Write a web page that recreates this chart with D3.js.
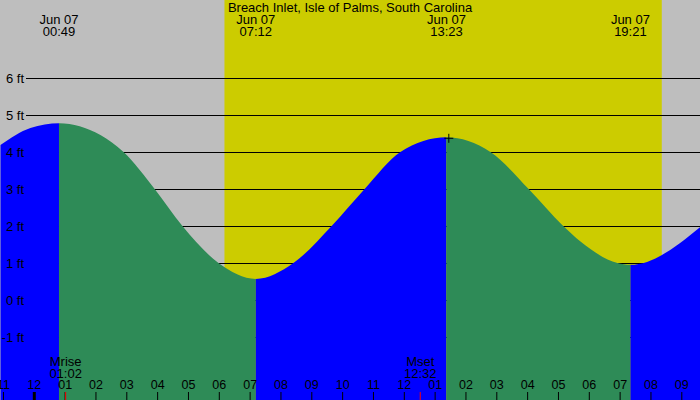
<!DOCTYPE html>
<html>
<head>
<meta charset="utf-8">
<script src="https://cdn.jsdelivr.net/npm/d3@7"></script>
<style>
  body { margin: 0; background: #fff; }
  svg { display: block; font-family: "Liberation Sans", Arial, sans-serif; }
</style>
</head>
<body>
<svg id="chart" width="700" height="400"></svg>
<script>
const title = 'Breach Inlet, Isle of Palms, South Carolina';

// tide extremes, Jun 07
const eventDates = ['Jun 07', 'Jun 07', 'Jun 07', 'Jun 07'];
const eventTimes = ['00:49', '07:12', '13:23', '19:21'];
const eventTypes = ['H', 'L', 'H', 'L'];

// tide height (ft), hours from midnight Jun 07
const curveHours = [-1.08, -0.11, 0.82, 2.16, 2.91, 3.92, 4.82, 5.99, 7.2, 8.42, 9.66, 10.73, 11.89,
  13.38, 14.81, 16.05, 17.17, 17.73, 18.93, 19.35, 21.63];
const curveFeet = [4.19, 4.65, 4.78, 4.46, 4.0, 3.0, 2.0, 1.0, 0.57, 1.0, 2.0, 3.0, 4.0,
  4.4, 4.0, 3.0, 2.0, 1.58, 1.0, 0.95, 1.98];

const sunTimes = ['06:11', '20:22'];
const moonLabels = ['Mrise', 'Mset'];
const moonTimes = ['01:02', '12:32'];
const markHour = [13.46];
const markFeet = [4.37];

const feetTicks = [6, 5, 4, 3, 2, 1, 0, -1];
const hourTicks = d3.range(-1, 22);

const W = 700, H = 400;
const toHours = (s) => { const [h, m] = s.split(':').map(Number); return h + m / 60; };

const x = d3.scaleLinear().domain([0, 12]).range([33.8, 403.8]);
const y = d3.scaleLinear().domain([0, 1]).range([300, 263]);

const svg = d3.select('#chart');

svg.append('rect').attr('width', W).attr('height', H).attr('fill', '#bebebe');

svg.append('rect')
  .attr('x', x(toHours(sunTimes[0])))
  .attr('width', x(toHours(sunTimes[1])) - x(toHours(sunTimes[0])))
  .attr('y', 0).attr('height', H)
  .attr('fill', '#cccc00');

// grid lines sit behind the water
svg.append('g').selectAll('line').data(feetTicks).enter().append('line')
  .attr('x1', 26).attr('x2', W)
  .attr('y1', (d) => Math.round(y(d)) + 0.5)
  .attr('y2', (d) => Math.round(y(d)) + 0.5)
  .attr('stroke', '#000');

const tide = curveHours.map((h, i) => ({ h, ft: curveFeet[i] }));
const area = d3.area()
  .x((d) => x(d.h))
  .y0(H)
  .y1((d) => y(d.ft))
  .curve(d3.curveMonotoneX);

svg.append('clipPath').attr('id', 'water')
  .append('path').attr('d', area(tide));

// rising = blue, falling = green
const bounds = [x.invert(0), ...eventTimes.map(toHours), x.invert(W)];
const segs = d3.pairs(bounds).map(([a, b], i) => ({
  a, b, rising: i < eventTypes.length ? eventTypes[i] === 'H' : eventTypes[i - 1] === 'L'
}));

svg.append('g').attr('clip-path', 'url(#water)')
  .selectAll('rect').data(segs).enter().append('rect')
  .attr('x', (d) => x(d.a))
  .attr('width', (d) => x(d.b) - x(d.a))
  .attr('y', 0).attr('height', H)
  .attr('fill', (d) => (d.rising ? '#0000ff' : '#2e8b57'));

svg.append('g').selectAll('text').data(feetTicks).enter().append('text')
  .attr('x', 24).attr('y', (d) => y(d))
  .attr('dy', '0.35em')
  .attr('text-anchor', 'end')
  .attr('font-size', 13)
  .text((d) => `${d} ft`);

// hour axis along the bottom edge
const axis = svg.append('g')
  .attr('transform', `translate(0,${H})`)
  .call(d3.axisTop(x)
    .tickValues(hourTicks)
    .tickSize(8)
    .tickPadding(3)
    .tickFormat((h) => d3.format('02')(((h % 12) + 12) % 12 || 12)));
axis.select('.domain').remove();
axis.selectAll('text').attr('font-size', 12.5).attr('font-family', null).attr('fill', '#000');
axis.selectAll('.tick line')
  .attr('stroke', '#000')
  .attr('stroke-width', (h) => (h === 0 ? 3 : 1));

svg.append('g').selectAll('line').data(moonTimes).enter().append('line')
  .attr('x1', (d) => x(toHours(d))).attr('x2', (d) => x(toHours(d)))
  .attr('y1', H - 8).attr('y2', H)
  .attr('stroke', '#ff0000');

const moon = svg.append('g').selectAll('text').data(moonTimes).enter().append('text')
  .attr('x', (d) => x(toHours(d)))
  .attr('text-anchor', 'middle')
  .attr('font-size', 13);
moon.append('tspan').attr('y', 366).text((d, i) => moonLabels[i]);
moon.append('tspan').attr('x', (d) => x(toHours(d))).attr('y', 378).text((d) => d);

const heads = svg.append('g').selectAll('text').data(eventTimes).enter().append('text')
  .attr('x', (d) => x(toHours(d)))
  .attr('text-anchor', 'middle')
  .attr('font-size', 13);
heads.append('tspan').attr('y', 24).text((d, i) => eventDates[i]);
heads.append('tspan').attr('x', (d) => x(toHours(d))).attr('y', 36).text((d) => d);

svg.append('text')
  .attr('x', W / 2).attr('y', 12)
  .attr('text-anchor', 'middle')
  .attr('font-size', 13)
  .text(title);

const mark = svg.append('g').selectAll('g').data(markHour).enter().append('g')
  .attr('transform', (d, i) => `translate(${x(d)},${y(markFeet[i])})`);
mark.append('line').attr('x1', -4.5).attr('x2', 4.5).attr('stroke', '#000');
mark.append('line').attr('y1', -4.5).attr('y2', 4.5).attr('stroke', '#000');
</script>
</body>
</html>
